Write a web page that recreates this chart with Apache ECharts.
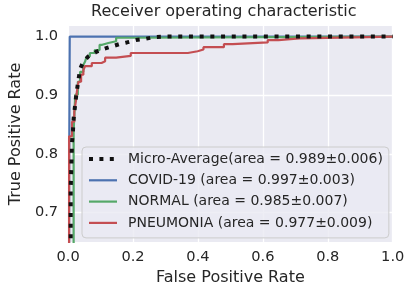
<!DOCTYPE html>
<html>
<head>
<meta charset="utf-8">
<script src="https://cdn.jsdelivr.net/npm/echarts@6/dist/echarts.min.js"></script>
<style>
html,body{margin:0;padding:0;background:#fff;}
#chart{width:411px;height:292px;}
</style>
</head>
<body>
<div id="chart"></div>
<script>
// Series names (legend labels)
const seriesNames = [
  'Micro-Average(area = 0.989\u00b10.006)',
  'COVID-19 (area = 0.997\u00b10.003)',
  'NORMAL (area = 0.985\u00b10.007)',
  'PNEUMONIA (area = 0.977\u00b10.009)'
];
// ROC curve points [fpr, tpr]
const microAvg = [[0,0],[0.008,0.6],[0.008,0.74],[0.010,0.78],[0.012,0.82],[0.015,0.84],[0.017,0.86],[0.022,0.885],[0.025,0.90],[0.031,0.923],[0.037,0.945],[0.045,0.955],[0.062,0.966],[0.087,0.974],[0.11,0.979],[0.134,0.983],[0.157,0.987],[0.181,0.990],[0.209,0.994],[0.236,0.996],[0.264,0.999],[0.3,1.0],[1,1]];
const covid = [[0,0],[0.003,0.5],[0.003,0.74],[0.005,0.74],[0.005,1.0],[1,1]];
const normal = [[0,0],[0.017,0.6],[0.017,0.838],[0.022,0.838],[0.022,0.901],[0.030,0.901],[0.030,0.923],[0.037,0.923],[0.037,0.940],[0.047,0.940],[0.047,0.952],[0.052,0.952],[0.052,0.957],[0.057,0.957],[0.057,0.966],[0.067,0.966],[0.067,0.972],[0.082,0.972],[0.082,0.977],[0.097,0.977],[0.097,0.986],[0.105,0.986],[0.105,0.989],[0.124,0.989],[0.124,0.992],[0.148,0.992],[0.148,0.998],[0.196,0.998],[0.196,1.0],[1,1]];
const pneumonia = [[0,0],[0.003,0.6],[0.003,0.83],[0.012,0.83],[0.012,0.855],[0.019,0.855],[0.019,0.872],[0.024,0.872],[0.024,0.89],[0.027,0.89],[0.027,0.906],[0.032,0.906],[0.032,0.923],[0.040,0.923],[0.040,0.935],[0.047,0.935],[0.047,0.943],[0.052,0.943],[0.052,0.9495],[0.073,0.9495],[0.073,0.955],[0.103,0.955],[0.103,0.958],[0.114,0.958],[0.114,0.964],[0.148,0.964],[0.148,0.967],[0.193,0.967],[0.193,0.972],[0.369,0.972],[0.369,0.975],[0.399,0.975],[0.399,0.978],[0.417,0.978],[0.417,0.982],[0.480,0.982],[0.480,0.987],[0.507,0.987],[0.507,0.990],[0.615,0.990],[0.615,0.994],[0.648,0.994],[0.648,0.997],[0.713,0.997],[0.713,1.0],[1,1]];
// Axis ticks
const xTicks = [0, 0.2, 0.4, 0.6, 0.8, 1.0];
const yTicks = [0.7, 0.8, 0.9, 1.0];

const FONT = 'DejaVu Sans';
const TXT = '#262626';
const chart = echarts.init(document.getElementById('chart'), null, {renderer: 'canvas'});
chart.setOption({
  backgroundColor: '#ffffff',
  animation: false,
  title: {
    text: 'Receiver operating characteristic',
    left: 91, top: 4, padding: 0,
    textStyle: {fontFamily: FONT, fontSize: 16, fontWeight: 'normal', color: TXT}
  },
  grid: {left: 58.5, right: 18.3, top: 26, bottom: 50, show: true, backgroundColor: '#eaeaf2', borderWidth: 0},
  xAxis: {
    type: 'value', min: 0, max: 1, interval: 0.2,
    name: 'False Positive Rate', nameLocation: 'middle', nameGap: 25,
    nameTextStyle: {fontFamily: FONT, fontSize: 16, color: TXT},
    axisLine: {show: false}, axisTick: {show: false},
    axisLabel: {fontFamily: FONT, fontSize: 14.6, color: TXT, margin: 8,
      formatter: v => v.toFixed(1)},
    splitLine: {show: true, lineStyle: {color: '#ffffff', width: 1.3}}
  },
  yAxis: {
    type: 'value', min: 0.65, max: 1.018,
    name: 'True Positive Rate', nameLocation: 'middle', nameGap: 39,
    nameTextStyle: {fontFamily: FONT, fontSize: 16, color: TXT},
    axisLine: {show: false},
    axisTick: {show: false, customValues: yTicks},
    axisLabel: {fontFamily: FONT, fontSize: 14.6, color: TXT, margin: 10, customValues: yTicks,
      formatter: v => v.toFixed(1)},
    splitLine: {show: true, lineStyle: {color: '#ffffff', width: 1.3}}
  },
  legend: {
    orient: 'vertical', left: 82, top: 147,
    padding: [5, 6, 8, 5],
    itemWidth: 28, itemHeight: 14, itemGap: 7.3,
    backgroundColor: 'rgba(234,234,242,0.8)', borderColor: '#cccccc', borderWidth: 1, borderRadius: 4,
    itemStyle: {opacity: 0},
    textStyle: {fontFamily: FONT, fontSize: 14, color: TXT, padding: [0, 0, 0, 6]},
    data: [
      {name: seriesNames[0], lineStyle: {width: 4, type: [4, 6.4], cap: 'butt', color: '#111111'}},
      {name: seriesNames[1], lineStyle: {width: 2.2}},
      {name: seriesNames[2], lineStyle: {width: 2.2}},
      {name: seriesNames[3], lineStyle: {width: 2.2}}
    ]
  },
  series: [
    {name: seriesNames[0], type: 'line', data: microAvg, symbol: 'none', z: 4,
      lineStyle: {color: '#111111', width: 4, type: [4, 6.7], cap: 'butt'}, itemStyle: {color: '#111111'}},
    {name: seriesNames[1], type: 'line', data: covid, symbol: 'none', z: 2,
      lineStyle: {color: '#4c72b0', width: 2.2}, itemStyle: {color: '#4c72b0'}},
    {name: seriesNames[2], type: 'line', data: normal, symbol: 'none', z: 2,
      lineStyle: {color: '#55a868', width: 2.2}, itemStyle: {color: '#55a868'}},
    {name: seriesNames[3], type: 'line', data: pneumonia, symbol: 'none', z: 3,
      lineStyle: {color: '#c44e52', width: 2.2}, itemStyle: {color: '#c44e52'}}
  ]
});
</script>
</body>
</html>
